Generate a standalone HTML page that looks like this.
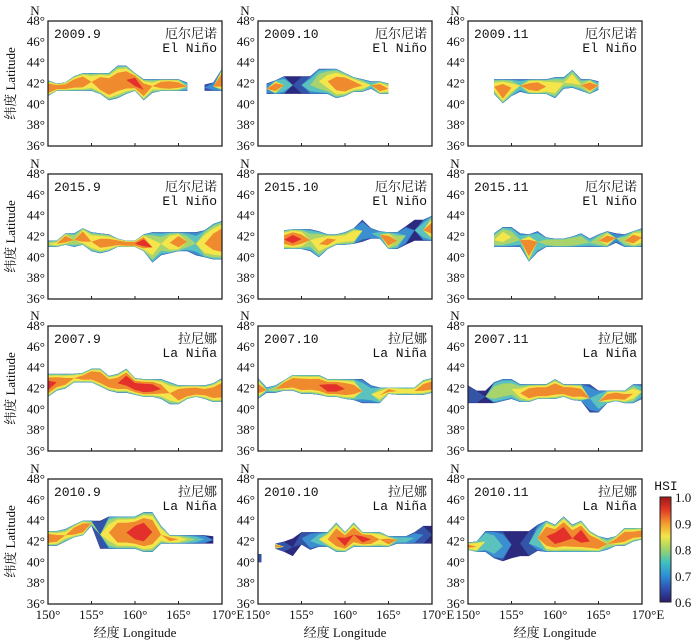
<!DOCTYPE html>
<html><head><meta charset="utf-8">
<style>
body{margin:0;background:#fff;}
svg{display:block;font-family:"Liberation Serif","Noto Serif CJK SC",serif;}
.t{font-size:13px;fill:#111;}
</style></head><body>
<svg id="chart" width="700" height="643" viewBox="0 0 700 643" xmlns="http://www.w3.org/2000/svg"></svg>
<script>
// Shared axis data
const lonTicks = [150,155,160,165,170];
const latTicks = [36,38,40,42,44,46,48];
const lons = [150,151,152,153,154,155,156,157,158,159,160,161,162,163,164,165,166,167,168,169,170];
const levels = [0.6,0.65,0.7,0.75,0.8,0.85,0.9,0.95];
const cbTicks = [0.6,0.7,0.8,0.9,1.0];
const titles = ["2009.9","2009.10","2009.11","2015.9","2015.10","2015.11","2007.9","2007.10","2007.11","2010.9","2010.10","2010.11"];
const cnLabels = ["厄尔尼诺","厄尔尼诺","厄尔尼诺","厄尔尼诺","厄尔尼诺","厄尔尼诺","拉尼娜","拉尼娜","拉尼娜","拉尼娜","拉尼娜","拉尼娜"];
const enLabels = ["El Niño","El Niño","El Niño","El Niño","El Niño","El Niño","La Niña","La Niña","La Niña","La Niña","La Niña","La Niña"];
const N = null;
// Per panel: lower latitude edge, upper latitude edge, peak HSI for each longitude
const lo0 = [40.8,41.3,41.3,41.3,41.3,41.3,41.0,40.4,40.6,41.0,41.3,40.4,41.1,41.3,41.3,41.3,41.3,N,41.3,41.3,41.3];
const hi0 = [42.3,42.0,42.1,42.7,43.0,43.0,43.0,43.0,43.7,43.7,43.0,42.4,42.4,42.4,42.4,42.4,42.1,N,41.9,42.1,43.4];
const pk0 = [0.93,0.92,0.92,0.92,0.93,0.88,0.93,0.93,0.92,0.93,0.96,0.93,0.85,0.92,0.94,0.9,0.75,N,0.68,0.72,0.93];
const lo1 = [N,41,41,41,41,41,41,41,41,40.6,40.8,41.2,41.2,41.5,41,41,N,N,N,N,N];
const hi1 = [N,42,42.3,42.7,42.7,42.7,42.7,43.4,43.4,43.4,43,42.6,42.4,42.2,42.2,42,N,N,N,N,N];
const pk1 = [N,0.7,0.92,0.75,0.62,0.65,0.75,0.8,0.85,0.9,0.93,0.9,0.85,0.78,0.92,0.85,N,N,N,N,N];
const lo2 = [N,N,N,41,40.1,40.8,41.2,41,41,41,40.6,41.5,41.6,41.3,41,41.4,N,N,N,N,N];
const hi2 = [N,N,N,42.4,42.4,42.4,42.4,42.4,42.4,42.4,42.6,42.6,43.3,42.4,42.4,42.2,N,N,N,N,N];
const pk2 = [N,N,N,0.85,0.93,0.85,0.75,0.9,0.93,0.88,0.85,0.8,0.85,0.8,0.92,0.75,N,N,N,N,N];
const lo3 = [41,41,41.2,41,41.2,40.6,40.4,40.6,41,41,41,40.6,39.5,40.2,40.4,40.6,40.6,40.2,40.0,39.8,39.8];
const hi3 = [41.6,41.6,42.3,42.3,42.8,42.4,42.3,42.2,41.8,41.6,41.6,42.2,42.4,42.4,42.4,42.4,42.4,42.4,42.6,43.2,43.5];
const pk3 = [0.8,0.85,0.92,0.82,0.93,0.88,0.9,0.9,0.92,0.93,0.93,0.95,0.85,0.8,0.88,0.93,0.8,0.75,0.88,0.9,0.93];
const lo4 = [N,N,N,40.8,40.8,40.8,40.6,40,40.8,41.2,41.2,41.3,41.5,41.8,41.8,40.8,40.8,41.2,41.6,41.6,41.6];
const hi4 = [N,N,N,42.6,42.7,42.7,42.7,42.5,42.2,42.2,42.4,42.8,43.6,42.8,42.5,42.4,42.4,43,43.6,43.6,44];
const pk4 = [N,N,N,0.9,0.95,0.9,0.8,0.85,0.9,0.88,0.85,0.88,0.7,0.72,0.78,0.93,0.8,0.7,0.62,0.75,0.9];
const lo5 = [N,N,N,41,41,41,41,39.6,40.5,41,41,41,41,41,41,41,41,41.4,41,41,41];
const hi5 = [N,N,N,42.3,42.9,42.9,42.3,42.2,42.5,41.9,41.8,41.8,42,42.3,41.8,42.2,42.5,42.3,42.2,42.5,42.8];
const pk5 = [N,N,N,0.82,0.85,0.8,0.75,0.93,0.78,0.8,0.84,0.84,0.84,0.8,0.75,0.82,0.9,0.7,0.8,0.92,0.85];
const lo6 = [41.2,41.8,42.0,42.6,42.6,42.6,42.2,41.8,41.6,41.6,41.4,41.2,41.2,41.0,40.5,40.5,41,41.2,41,40.7,40.7];
const hi6 = [43.4,43.4,43.4,43.4,43.5,43.9,43.9,43.2,43.4,43.9,43,42.9,42.9,42.9,42.6,42.3,42.3,42.3,42.3,42.5,43];
const pk6 = [0.95,0.93,0.9,0.88,0.9,0.93,0.93,0.92,0.93,0.95,0.95,0.96,0.95,0.9,0.88,0.93,0.93,0.93,0.9,0.92,0.93];
const lo7 = [41,41.6,41.6,41.8,41.8,41.5,41.5,41.4,41.2,41.2,41.0,40.9,40.6,40.6,40.6,41.5,41.4,41.4,41.4,41.4,41.6];
const hi7 = [43,42.1,42.3,42.8,43.3,43.3,43.3,43.3,42.9,42.9,42.9,42.9,42.9,42.3,42.1,42.1,42.1,42.1,42.1,42.8,43];
const pk7 = [0.9,0.75,0.8,0.92,0.93,0.93,0.92,0.93,0.95,0.95,0.93,0.9,0.75,0.75,0.85,0.9,0.87,0.85,0.88,0.9,0.92];
const lo8 = [40.6,40.6,40.6,40.6,40.8,41,40.7,40.7,41,41,41,41.2,40.9,40.8,39.7,39.7,40.6,40.8,40.6,40.6,41];
const hi8 = [42.3,41.8,41.8,42.6,42.9,42.9,42.4,42.4,42.4,42.4,42.9,42.4,42.4,42.4,42.4,41.8,41.8,41.8,41.8,42.4,42.4];
const pk8 = [0.65,0.65,0.62,0.8,0.8,0.8,0.85,0.92,0.93,0.93,0.92,0.92,0.93,0.9,0.7,0.75,0.9,0.93,0.9,0.85,0.75];
const lo9 = [41.6,41.6,42,42.4,42.6,43.5,41.3,41.3,41.3,41.3,41.3,41,41,41.8,41.8,41.8,41.8,41.8,41.8,41.8,N];
const hi9 = [43,43,43.2,43.6,44,44,44,44.4,44.4,44.4,44.4,44.8,44.8,43.5,42.6,42.6,42.6,42.6,42.6,42.5,N];
const pk9 = [0.93,0.9,0.85,0.92,0.93,0.8,0.65,0.85,0.93,0.93,0.95,0.96,0.93,0.88,0.9,0.88,0.8,0.75,0.7,0.62,N];
const lo10 = [40,N,41.3,41,40.6,41.7,41.2,41.5,41.5,41,41,41.5,41.5,41.5,41.5,41.5,41.8,41.8,41.8,41.8,41.8];
const hi10 = [40.8,N,41.8,42,42.3,42.9,42.9,42.9,42.9,43.8,42.9,43.8,42.9,42.9,42.9,42.5,42.5,42.5,42.9,43.5,43.5];
const pk10 = [0.65,N,0.9,0.65,0.62,0.68,0.7,0.75,0.88,0.93,0.95,0.93,0.95,0.93,0.88,0.92,0.75,0.75,0.7,0.68,0.62];
const lo11 = [41.2,41,41,40.4,40.1,40.4,40.6,40.6,41.1,41,41,41,41,41,41,41,41.2,41.6,41.6,42,42.2];
const hi11 = [41.9,42,43,43,43,43,43,43,43.6,44,43.6,44.4,43.6,44,43,42.5,42.3,42.5,43.3,43.3,43.3];
const pk11 = [0.9,0.88,0.78,0.75,0.7,0.62,0.62,0.68,0.75,0.93,0.95,0.95,0.93,0.95,0.93,0.93,0.8,0.9,0.92,0.9,0.92];
const LO=[lo0,lo1,lo2,lo3,lo4,lo5,lo6,lo7,lo8,lo9,lo10,lo11];
const HI=[hi0,hi1,hi2,hi3,hi4,hi5,hi6,hi7,hi8,hi9,hi10,hi11];
const PK=[pk0,pk1,pk2,pk3,pk4,pk5,pk6,pk7,pk8,pk9,pk10,pk11];

const levelColors = ["#2c2a7e","#3454a8","#3b8fd0","#5cc2bd","#a9d46c","#f4e64a","#f08a2e","#e3302a"];
const svg = document.getElementById('chart');
const NS = "http://www.w3.org/2000/svg";
function mk(tag, attrs, parent){const e=document.createElementNS(NS,tag);for(const k in attrs)e.setAttribute(k,attrs[k]);(parent||svg).appendChild(e);return e;}
const colX=[48,258,468], rowY=[21,174,326,479], PW=174, PH=125;

for(let p=0;p<12;p++){
  const r=Math.floor(p/3), c=p%3, X0=colX[c], Y0=rowY[r];
  const xs=lon=>X0+(lon-150)/20*PW;
  const ys=lat=>Y0+(48-lat)/12*PH;
  const g=mk('g',{});
  
  
  const cid='clip'+p;
  const cp=mk('clipPath',{id:cid},g); mk('rect',{x:X0,y:Y0,width:PW,height:PH},cp);
  const lay=mk('g',{'clip-path':'url(#'+cid+')'},g);
  
  
  const lo=LO[p],hi=HI[p],pk=PK[p];
  const segs=[];let cur=[];
  for(let i=0;i<lons.length;i++){ if(lo[i]==null){if(cur.length)segs.push(cur);cur=[];} else cur.push(i);}
  if(cur.length)segs.push(cur);
  levels.forEach((L,li)=>{
    segs.forEach(seg=>{
      const top=[],bot=[];
      const pts=seg.length===1?[{i:seg[0],lon:lons[seg[0]]-0.4},{i:seg[0],lon:lons[seg[0]]+0.4}]:seg.map(i=>({i,lon:lons[i]}));
      let any=false;
      pts.forEach(q=>{
        const i=q.i, cen=(lo[i]+hi[i])/2, h=(hi[i]-lo[i])/2;
        let s=0;
        if(pk[i]>=L){ s=li===0?1:1-Math.pow((L-0.6)/(pk[i]-0.6+0.05),4); if(s>0)any=true; else s=0; }
        top.push([xs(q.lon),ys(cen+h*s)]); bot.push([xs(q.lon),ys(cen-h*s)]);
      });
      if(!any)return;
      const d=top.concat(bot.reverse()).map(a=>a[0].toFixed(1)+','+a[1].toFixed(1)).join(' ');
      const poly=mk('polygon',{points:d,fill:levelColors[li]},lay);
      
      
    });
  });
  const fr=mk('rect',{x:X0,y:Y0,width:PW,height:PH,fill:'none',stroke:'#222','stroke-width':1.3},g);
  
  lonTicks.slice(1,4).forEach(lon=>{const t=mk('line',{x1:xs(lon),x2:xs(lon),y1:Y0+PH,y2:Y0+PH-3,stroke:'#222'},g);
    });
  const tt=mk('text',{x:X0+6,y:Y0+17,class:'t','font-family':'Liberation Mono, monospace','font-size':'12.5'},g);tt.textContent=titles[p];
  
  const cn=mk('text',{x:X0+PW-5,y:Y0+17,class:'t','text-anchor':'end','font-size':'13.5'},g);cn.textContent=cnLabels[p];
  
  const en=mk('text',{x:X0+PW-5,y:Y0+31,class:'t','text-anchor':'end','font-family':'Liberation Mono, monospace','font-size':'12.5'},g);en.textContent=enLabels[p];
  
  latTicks.forEach(lat=>{const t=mk('text',{x:X0-3,y:ys(lat)+4,class:'t','text-anchor':'end'},g);t.textContent=lat+'°';
    });
  const nn=mk('text',{x:X0-13,y:Y0-6,class:'t','text-anchor':'middle'},g);nn.textContent='N';
  
  if(c===0){const yt=mk('text',{x:0,y:0,class:'t','text-anchor':'middle','font-size':'13.5',transform:`translate(15,${Y0+PH/2}) rotate(-90)`},g);
    yt.textContent='纬度 Latitude';}
  if(r===3){
    lonTicks.forEach(lon=>{const t=mk('text',{x:xs(lon)+(lon===170?6:0),y:Y0+PH+15,class:'t','text-anchor':'middle'},g);
      t.textContent=lon+'°'+(lon===170?'E':'');});
    const xt=mk('text',{x:X0+PW/2,y:Y0+PH+33,class:'t','text-anchor':'middle','font-size':'13.5'},g);
    xt.textContent='经度 Longitude';
  }
}
const cb=mk('g',{});
const lg=mk('linearGradient',{id:'jet',x1:0,y1:1,x2:0,y2:0},cb);
["#2b1d6e","#2f4fb0","#2d8fd6","#3fc0c0","#9cd36a","#f2e64a","#f39a2e","#e33a26","#a01818"].forEach((col,i,a)=>mk('stop',{offset:i/(a.length-1),'stop-color':col},lg));
const cbY=v=>602-(v-0.6)/0.4*105;
mk('rect',{x:660,y:497,width:11,height:105,fill:'url(#jet)',stroke:'#222','stroke-width':1},cb);
cbTicks.forEach(v=>{const t=mk('text',{x:675,y:cbY(v)+5,class:'t','font-size':'13.5'},cb);t.textContent=v.toFixed(1);
  });
const ht=mk('text',{x:666,y:490,class:'t','text-anchor':'middle','font-family':'Liberation Mono, monospace','font-size':'12.5'},cb);ht.textContent='HSI';

</script>
</body></html>
